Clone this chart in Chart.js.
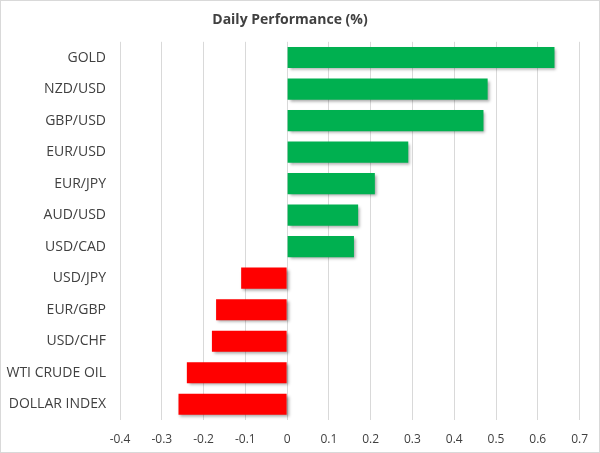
<!DOCTYPE html>
<html>
<head>
<meta charset="utf-8">
<script src="https://cdn.jsdelivr.net/npm/chart.js@4"></script>
<style>
  html, body { margin: 0; padding: 0; background: #fff; }
  #wrap { width: 600px; height: 453px; }
</style>
</head>
<body>
<div id="wrap"><canvas id="perfChart" width="600" height="453"></canvas></div>
<script>
    // data
    const categories = ['GOLD', 'NZD/USD', 'GBP/USD', 'EUR/USD', 'EUR/JPY', 'AUD/USD', 'USD/CAD',
                        'USD/JPY', 'EUR/GBP', 'USD/CHF', 'WTI CRUDE OIL', 'DOLLAR INDEX'];
    const values = [0.64, 0.48, 0.47, 0.29, 0.21, 0.17, 0.16, -0.11, -0.17, -0.18, -0.24, -0.26];
    const xMin = -0.4, xMax = 0.7, xStep = 0.1;

    const GREEN = '#00B050', RED = '#FF0000', TEXT = '#404040', GRID = '#d9d9d9';

    // soft drop shadow under the bars, like the spreadsheet chart
    const barShadow = {
        id: 'barShadow',
        beforeDatasetsDraw(chart) {
            const ctx = chart.ctx;
            ctx.save();
            ctx.shadowColor = 'rgba(0,0,0,0.35)';
            ctx.shadowBlur = 3;
            ctx.shadowOffsetX = 2;
            ctx.shadowOffsetY = 2;
        },
        afterDatasetsDraw(chart) {
            chart.ctx.restore();
        }
    };

    const outerBorder = {
        id: 'outerBorder',
        afterDraw(chart) {
            const ctx = chart.ctx;
            ctx.save();
            ctx.strokeStyle = GRID;
            ctx.lineWidth = 1;
            ctx.strokeRect(0.5, 0.5, chart.width - 1, chart.height - 1);
            ctx.restore();
        }
    };

    new Chart(document.getElementById('perfChart'), {
        type: 'bar',
        data: {
            labels: categories,
            datasets: [{
                data: values,
                backgroundColor: values.map(v => v >= 0 ? GREEN : RED),
                borderWidth: 0,
                categoryPercentage: 1,
                barPercentage: 0.67
            }]
        },
        options: {
            indexAxis: 'y',
            responsive: false,
            animation: false,
            devicePixelRatio: 1,
            layout: { padding: { left: 0, right: 20, top: 0, bottom: 0 } },
            plugins: {
                legend: { display: false },
                tooltip: { enabled: false },
                title: {
                    display: true,
                    text: 'Daily Performance (%)',
                    color: TEXT,
                    font: { family: 'Open Sans', size: 14, weight: 'bold' },
                    padding: { top: 12, bottom: 13 }
                }
            },
            scales: {
                x: {
                    min: xMin,
                    max: xMax,
                    ticks: {
                        stepSize: xStep,
                        color: TEXT,
                        padding: 12,
                        font: { family: 'Open Sans', size: 12 },
                        callback: v => String(+v.toFixed(1))
                    },
                    grid: { color: GRID, lineWidth: 1, drawTicks: false },
                    border: { display: false },
                    afterFit: s => { s.height = 33; }
                },
                y: {
                    ticks: {
                        color: TEXT,
                        padding: 14,
                        font: { family: 'Open Sans', size: 14 }
                    },
                    grid: { display: false, drawTicks: false },
                    border: { display: false },
                    afterFit: s => { s.width = 120; }
                }
            }
        },
        plugins: [barShadow, outerBorder]
    });
</script>
</body>
</html>
